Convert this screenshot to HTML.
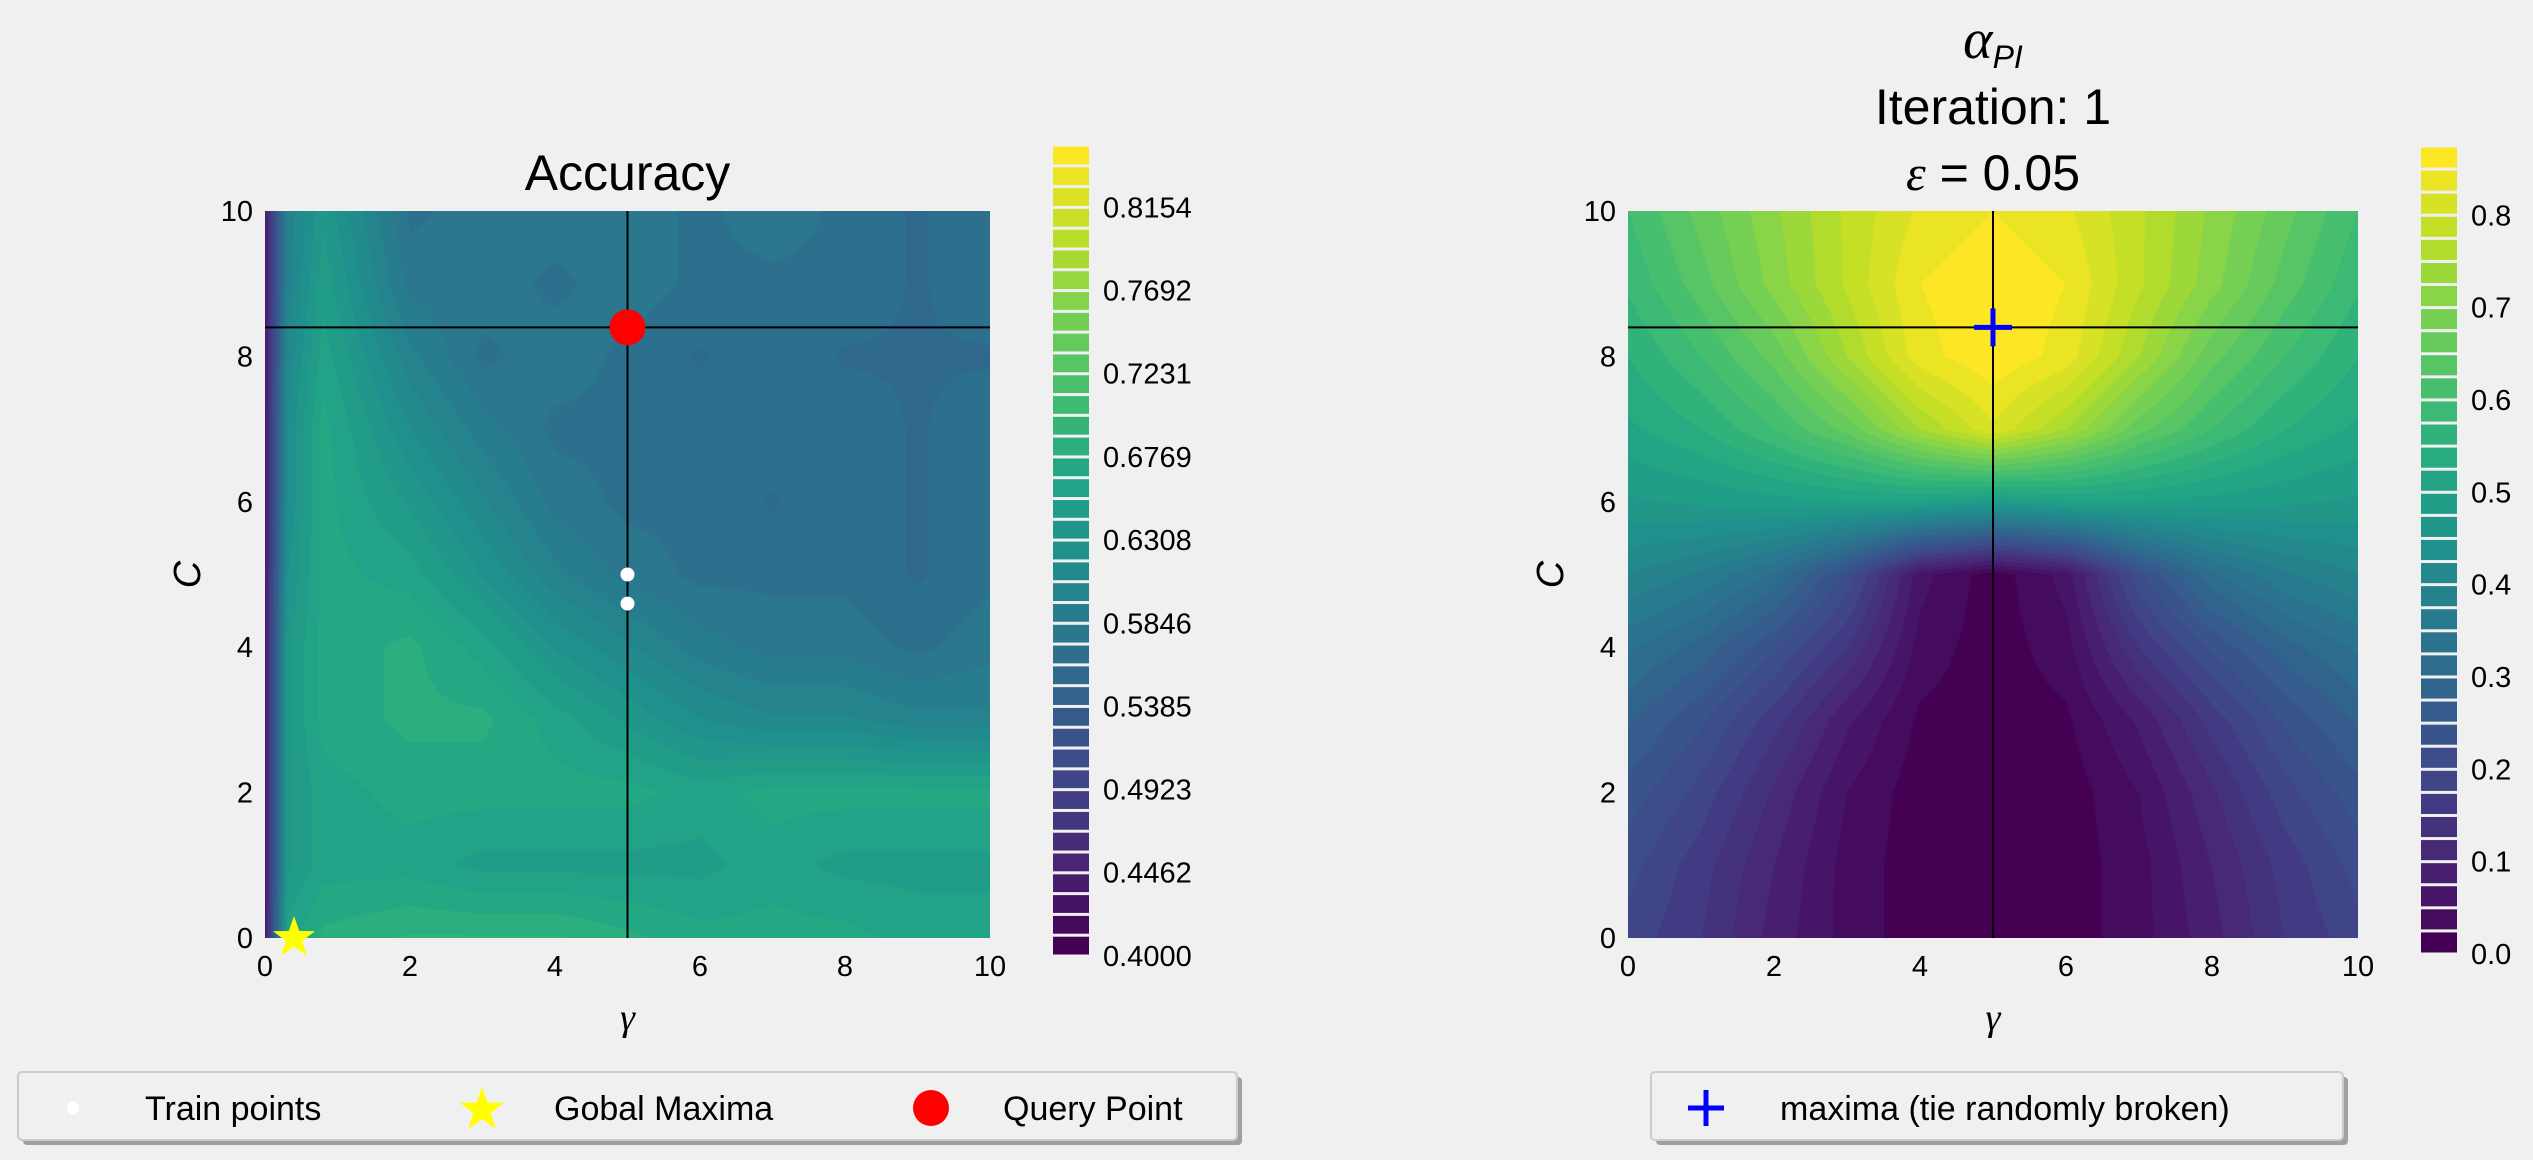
<!DOCTYPE html>
<html><head><meta charset="utf-8">
<style>
html,body{margin:0;padding:0;background:#f0f0f0;}
#root{position:relative;width:2533px;height:1160px;overflow:hidden;background:#f0f0f0;font-family:"Liberation Sans","DejaVu Sans",sans-serif;}
canvas{position:absolute;}
svg{position:absolute;left:0;top:0;}
</style></head>
<body>
<div id="root">
<canvas id="cL" style="left:265px;top:211px" width="725" height="727"></canvas>
<canvas id="cR" style="left:1628px;top:211px" width="730" height="727"></canvas>
<svg id="svg" width="2533" height="1160"></svg>
</div>
<script>
// ---- data ----
const accGammas=[0,0.3,0.8,2,3,4,5,6,7,8,9,10];
const accCs=[10,9,8,7,6,5,4,3,2,1,0];
const accValues=[
[0.44,0.60,0.64,0.57,0.58,0.58,0.58,0.57,0.58,0.57,0.56,0.57],
[0.44,0.60,0.65,0.58,0.58,0.57,0.58,0.57,0.57,0.57,0.56,0.57],
[0.44,0.61,0.66,0.60,0.57,0.58,0.57,0.56,0.57,0.56,0.56,0.56],
[0.44,0.62,0.67,0.62,0.59,0.57,0.57,0.57,0.57,0.57,0.56,0.57],
[0.44,0.62,0.67,0.64,0.61,0.58,0.57,0.57,0.56,0.57,0.56,0.57],
[0.44,0.63,0.67,0.66,0.63,0.60,0.58,0.57,0.57,0.57,0.56,0.57],
[0.44,0.64,0.67,0.68,0.66,0.63,0.61,0.59,0.58,0.58,0.57,0.58],
[0.44,0.64,0.67,0.68,0.68,0.66,0.64,0.62,0.61,0.61,0.60,0.60],
[0.44,0.64,0.66,0.67,0.67,0.67,0.67,0.66,0.67,0.67,0.67,0.67],
[0.44,0.64,0.66,0.66,0.65,0.65,0.65,0.65,0.66,0.65,0.65,0.65],
[0.44,0.66,0.68,0.69,0.69,0.69,0.68,0.67,0.67,0.67,0.66,0.66]];
const piGammas=[0,1,2,3,4,5,6,7,8,9,10];
const piCs=[10,9,8,7,6,5,4,3,2,1,0];
const piValues=[
[0.60,0.66,0.72,0.78,0.83,0.85,0.83,0.78,0.72,0.66,0.60],
[0.58,0.64,0.71,0.78,0.85,0.87,0.85,0.78,0.71,0.64,0.58],
[0.55,0.60,0.66,0.75,0.84,0.87,0.84,0.75,0.66,0.60,0.55],
[0.52,0.55,0.60,0.66,0.75,0.82,0.75,0.66,0.60,0.55,0.52],
[0.47,0.48,0.49,0.50,0.50,0.48,0.50,0.50,0.49,0.48,0.47],
[0.40,0.37,0.32,0.22,0.06,0.01,0.06,0.22,0.32,0.37,0.40],
[0.33,0.29,0.23,0.15,0.04,0.01,0.04,0.15,0.23,0.29,0.33],
[0.28,0.23,0.16,0.08,0.02,0.01,0.02,0.08,0.16,0.23,0.28],
[0.24,0.19,0.12,0.05,0.01,0.01,0.01,0.05,0.12,0.19,0.24],
[0.21,0.16,0.10,0.04,0.01,0.01,0.01,0.04,0.10,0.16,0.21],
[0.19,0.15,0.09,0.04,0.01,0.01,0.01,0.04,0.09,0.15,0.19]];
const axisTicks=[0,2,4,6,8,10];
const accCbTicks=["0.4000","0.4462","0.4923","0.5385","0.5846","0.6308","0.6769","0.7231","0.7692","0.8154"];
const piCbTicks=["0.0","0.1","0.2","0.3","0.4","0.5","0.6","0.7","0.8"];
const trainPoints=[[5,5.0],[5,4.6]];
const queryPoint=[5,8.4];
const globalMax=[0.4,0];
const piMaxPoint=[5,8.4];
const accLevelMin=0.4, accLevelStep=0.4154/36, accLevelCount=39;
const piLevelMin=0.0, piLevelStep=0.025, piLevelCount=35;

// ---- viridis ----
const VIR=[[68,1,84],[72,35,116],[64,67,135],[52,94,141],[41,120,142],[32,144,140],[34,167,132],[68,190,112],[121,209,81],[189,222,38],[253,231,37]];
function vir(t){t=Math.max(0,Math.min(1,t));const f=t*10,i=Math.min(9,Math.floor(f)),u=f-i;const a=VIR[i],b=VIR[i+1];return [a[0]+(b[0]-a[0])*u,a[1]+(b[1]-a[1])*u,a[2]+(b[2]-a[2])*u];}
function rgb(c){return 'rgb('+c.map(Math.round).join(',')+')';}

function interp(xs,ys,vals,gx,gc){
  let i=0;while(i<xs.length-2&&gx>xs[i+1])i++;
  let j=0;while(j<ys.length-2&&gc<ys[j+1])j++;
  const u=(gx-xs[i])/(xs[i+1]-xs[i]);const v=(ys[j]-gc)/(ys[j]-ys[j+1]);
  const a=vals[j][i],b=vals[j][i+1],c=vals[j+1][i],d=vals[j+1][i+1];
  return (a*(1-u)+b*u)*(1-v)+(c*(1-u)+d*u)*v;
}
function drawHeat(id,xs,ys,vals,lmin,lstep,lcount){
  const cv=document.getElementById(id),ctx=cv.getContext('2d');
  const W=cv.width,H=cv.height,img=ctx.createImageData(W,H);
  for(let py=0;py<H;py++){const gc=10-py/(H-1)*10;
    for(let px=0;px<W;px++){const gx=px/(W-1)*10;
      const val=interp(xs,ys,vals,gx,gc);
      let k=Math.floor((val-lmin)/lstep);k=Math.max(0,Math.min(lcount-1,k));
      const c=vir(k/(lcount-1));const o=(py*W+px)*4;
      img.data[o]=c[0];img.data[o+1]=c[1];img.data[o+2]=c[2];img.data[o+3]=255;}}
  ctx.putImageData(img,0,0);
}
drawHeat('cL',accGammas,accCs,accValues,accLevelMin,accLevelStep,accLevelCount);
drawHeat('cR',piGammas,piCs,piValues,piLevelMin,piLevelStep,piLevelCount);

// ---- svg ----
const NS='http://www.w3.org/2000/svg';
const svg=document.getElementById('svg');
function mk(tag,attrs,parent,text){const e=document.createElementNS(NS,tag);for(const k in attrs)e.setAttribute(k,attrs[k]);if(text!==undefined)e.textContent=text;(parent||svg).appendChild(e);return e;}
const FONT='"Liberation Sans","DejaVu Sans",sans-serif';

function axes(name,x0,x1,y0,y1){
  const sx=v=>x0+(v/10)*(x1-x0), sy=v=>y1-(v/10)*(y1-y0);
  const g=mk('g',{});
  
  
  axisTicks.forEach(t=>{
    const tx=mk('text',{x:sx(t),y:y1+38,'text-anchor':'middle','font-size':29,'font-family':FONT,fill:'#000'},g,String(t));
    
    
    const ty=mk('text',{x:x0-12,y:sy(t)+10,'text-anchor':'end','font-size':29,'font-family':FONT,fill:'#000'},g,String(t));
    
    
  });
  const xl=mk('text',{x:(x0+x1)/2,y:y1+92,'text-anchor':'middle','font-size':38,'font-style':'italic','font-family':'"Liberation Serif",serif',fill:'#000'},g,'γ');
  
  
  const yl=mk('text',{x:0,y:0,'text-anchor':'middle','font-size':38,'font-style':'italic','font-family':FONT,fill:'#000',transform:'translate('+(x0-65)+','+((y0+y1)/2)+') rotate(-90)'},g,'C');
  
  
  return {sx,sy};
}
function crosshair(a,x0,x1,y0,y1,p){
  const h=mk('line',{x1:x0,x2:x1,y1:a.sy(p[1]),y2:a.sy(p[1]),stroke:'#000','stroke-width':2});
  
  
  const v=mk('line',{x1:a.sx(p[0]),x2:a.sx(p[0]),y1:y0,y2:y1,stroke:'#000','stroke-width':2});
  
  
}
function starPts(cx,cy,R){let s='';for(let i=0;i<10;i++){const r=i%2?R*0.4:R;const an=-Math.PI/2+i*Math.PI/5;s+=(cx+r*Math.cos(an))+','+(cy+r*Math.sin(an))+' ';}return s;}
function colorbar(name,x,yTop,yBot,lmin,lstep,lcount,ticks){
  const g=mk('g',{});
  
  
  const vmax=lmin+lstep*lcount;const h=(yBot-yTop)/lcount;
  for(let k=0;k<lcount;k++){
    const r=mk('rect',{x:x,y:yBot-(k+1)*h+1.5,width:36,height:h-3,fill:rgb(vir(k/(lcount-1)))},g);
    
    
  }
  ticks.forEach(t=>{const v=parseFloat(t);const y=yBot-(v-lmin)/(vmax-lmin)*(yBot-yTop);
    const tx=mk('text',{x:x+50,y:y+10,'font-size':29,'font-family':FONT,fill:'#000'},g,t);
    
    
  });
}

// left plot
const L={x0:265,x1:990,y0:211,y1:938};
const aL=axes('accuracy',L.x0,L.x1,L.y0,L.y1);
const tL=mk('text',{x:(L.x0+L.x1)/2,y:190,'text-anchor':'middle','font-size':50,'font-family':FONT,fill:'#000'},svg,'Accuracy');


crosshair(aL,L.x0,L.x1,L.y0,L.y1,queryPoint);
trainPoints.forEach(p=>{const c=mk('circle',{cx:aL.sx(p[0]),cy:aL.sy(p[1]),r:7,fill:'#fff'});
  
  });
const qp=mk('circle',{cx:aL.sx(queryPoint[0]),cy:aL.sy(queryPoint[1]),r:18,fill:'#ff0000'});


const gm=mk('polygon',{points:starPts(aL.sx(globalMax[0]),aL.sy(globalMax[1]),22),fill:'#ffff00'});


colorbar('accuracy-colorbar',1053,145,956,accLevelMin,accLevelStep,accLevelCount,accCbTicks);

// right plot
const R={x0:1628,x1:2358,y0:211,y1:938};
const aR=axes('pi',R.x0,R.x1,R.y0,R.y1);
const tg=mk('g',{});


const t1=mk('text',{x:1993,y:58,'text-anchor':'middle','font-size':50,'font-family':FONT,fill:'#000'},tg);
mk('tspan',{'font-style':'italic','font-family':'"Liberation Serif",serif','font-size':56},t1,'α');
mk('tspan',{'font-style':'italic','font-size':32,dy:10},t1,'PI');
mk('text',{x:1993,y:124,'text-anchor':'middle','font-size':50,'font-family':FONT,fill:'#000'},tg,'Iteration: 1');
const t3=mk('text',{x:1993,y:190,'text-anchor':'middle','font-size':50,'font-family':FONT,fill:'#000'},tg);
mk('tspan',{'font-style':'italic','font-family':'"Liberation Serif",serif'},t3,'ε');
mk('tspan',{},t3,' = 0.05');
crosshair(aR,R.x0,R.x1,R.y0,R.y1,piMaxPoint);
const pm=mk('path',{d:'M'+(aR.sx(piMaxPoint[0])-19)+','+aR.sy(piMaxPoint[1])+'h38M'+aR.sx(piMaxPoint[0])+','+(aR.sy(piMaxPoint[1])-19)+'v38',stroke:'#0000ff','stroke-width':5,fill:'none'});


colorbar('pi-colorbar',2421,146,954,piLevelMin,piLevelStep,piLevelCount,piCbTicks);

// legends
function legendBox(name,x,y,w,h){
  const g=mk('g',{});
  
  
  mk('rect',{x:x+5,y:y+5,width:w,height:h,rx:4,fill:'#a0a0a0'},g);
  mk('rect',{x:x,y:y,width:w,height:h,rx:4,fill:'#f0f0f0',stroke:'#cccccc','stroke-width':2},g);
  return g;
}
function legText(g,x,t,name){const e=mk('text',{x:x,y:1120,'font-size':34,'font-family':FONT,fill:'#000'},g,t);
  
  }
const lg=legendBox('accuracy-legend',18,1072,1219,68);
const le1=mk('ellipse',{cx:73,cy:1108,rx:6,ry:7,fill:'#fff'},lg);


legText(lg,145,'Train points','legend-train-points');
const le2=mk('polygon',{points:starPts(482,1110,23),fill:'#ffff00'},lg);


legText(lg,554,'Gobal Maxima','legend-global-maxima');
const le3=mk('circle',{cx:931,cy:1108,r:18,fill:'#ff0000'},lg);


legText(lg,1003,'Query Point','legend-query-point');
const rg=legendBox('pi-legend',1651,1072,692,68);
const le4=mk('path',{d:'M1688,1108h36M1706,1090v36',stroke:'#0000ff','stroke-width':5},rg);


legText(rg,1780,'maxima (tie randomly broken)','legend-maxima');
</script>
</body></html>
